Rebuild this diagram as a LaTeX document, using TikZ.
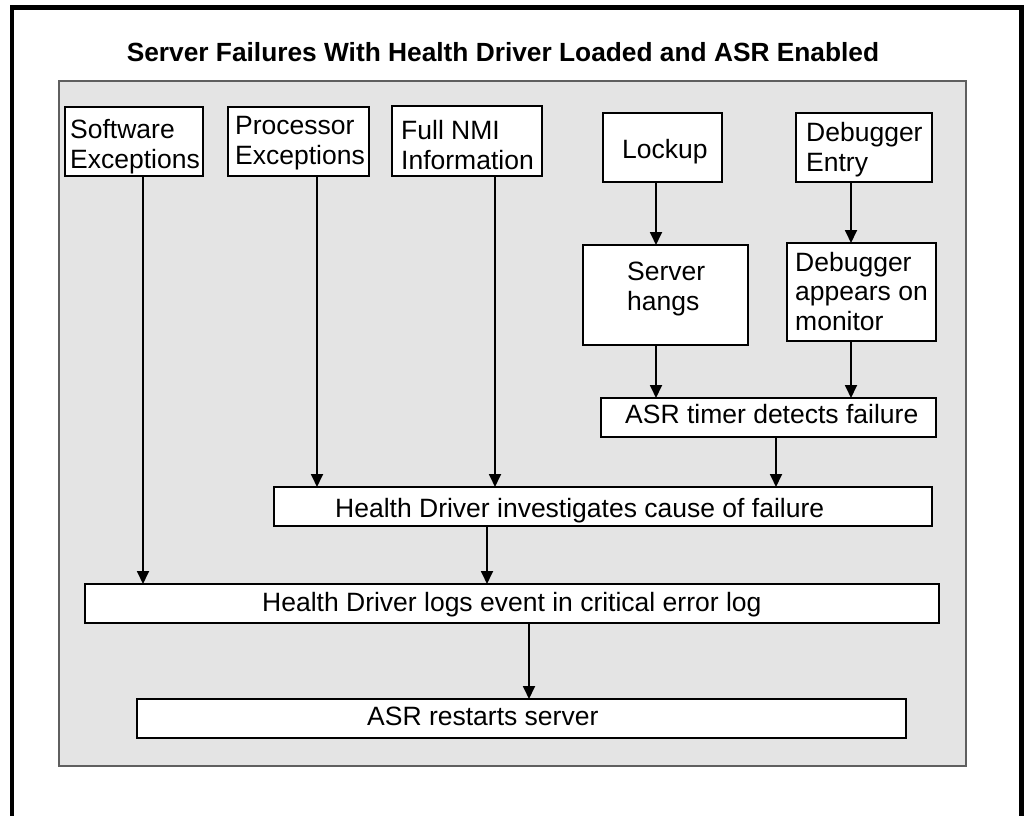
\documentclass[tikz,border=0pt]{standalone}
\usepackage{fontspec}
\setmainfont{Liberation Sans}
\usetikzlibrary{arrows.meta}
\definecolor{panelfill}{RGB}{228,228,228}
\definecolor{panelline}{RGB}{95,95,95}
\begin{document}
\begin{tikzpicture}[x=1pt,y=-1pt,
  box/.style={draw=black, fill=white, line width=1.4pt, inner sep=0pt, outer sep=0pt, anchor=north west},
  lbl/.style={font=\fontsize{26.5}{29.5}\selectfont, inner sep=0pt, anchor=base west, align=left},
  arr/.style={line width=1.8pt, -{Triangle[length=13pt,width=12pt]}},
]
\useasboundingbox (0,0) rectangle (1026,816);
\fill[white] (0,0) rectangle (1026,816);
% outer frame (open at the bottom edge)
\draw[line width=4.5pt] (12,822) -- (12,7.5) -- (1021.5,7.5) -- (1021.5,822);

% title
\node[font=\bfseries\fontsize{26.3}{30}\selectfont, inner sep=0pt, anchor=base] (title) at (503,62)
  {Server Failures With Health Driver Loaded and ASR Enabled};

% grey panel
\draw[fill=panelfill, draw=panelline, line width=1.5pt] (59,81) rectangle (966,766);

% boxes
\node[box, minimum width=138pt, minimum height=69pt] (sw)   at (65,107) {};
\node[box, minimum width=141pt, minimum height=69pt] (pe)   at (228,107) {};
\node[box, minimum width=150pt, minimum height=70pt] (nmi)  at (392,106) {};
\node[box, minimum width=119pt, minimum height=69pt] (lock) at (603,113) {};
\node[box, minimum width=136pt, minimum height=69pt] (dbe)  at (796,113) {};
\node[box, minimum width=165pt, minimum height=100pt] (hang) at (583,245) {};
\node[box, minimum width=149pt, minimum height=98pt] (dba)  at (787,243) {};
\node[box, minimum width=335pt, minimum height=39pt] (asrt) at (601,398) {};
\node[box, minimum width=658pt, minimum height=39pt] (inv)  at (274,487) {};
\node[box, minimum width=854pt, minimum height=39pt] (log)  at (85,584) {};
\node[box, minimum width=769pt, minimum height=39pt] (rst)  at (137,699) {};

% labels (placed at the baseline of their last line)
\node[lbl] (sw-t)   at (70,168)  {Software\\Exceptions};
\node[lbl] (pe-t)   at (235,164) {Processor\\Exceptions};
\node[lbl] (nmi-t)  at (401,169) {Full NMI\\Information};
\node[lbl] (lock-t) at (622,158) {Lockup};
\node[lbl] (dbe-t)  at (806,171) {Debugger\\Entry};
\node[lbl] (hang-t) at (627,310) {Server\\hangs};
\node[lbl] (dba-t)  at (795,330) {Debugger\\appears on\\monitor};
\node[lbl] (asrt-t) at (625,423) {ASR timer detects failure};
\node[lbl] (inv-t)  at (335,517) {Health Driver investigates cause of failure};
\node[lbl] (log-t)  at (262,611) {Health Driver logs event in critical error log};
\node[lbl] (rst-t)  at (367,725) {ASR restarts server};

% arrow start points
\coordinate (a-sw)   at ([xshift=9pt]sw.south);
\coordinate (a-pe)   at ([xshift=18.5pt]pe.south);
\coordinate (a-nmi)  at ([xshift=28pt]nmi.south);
\coordinate (a-lock) at ([xshift=-6.5pt]lock.south);
\coordinate (a-dbe)  at ([xshift=-13pt]dbe.south);
\coordinate (a-hang) at ([xshift=-9.5pt]hang.south);
\coordinate (a-dba)  at ([xshift=-10.5pt]dba.south);
\coordinate (a-asrt) at ([xshift=7.5pt]asrt.south);
\coordinate (a-inv)  at ([xshift=-116pt]inv.south);
\coordinate (a-log)  at ([xshift=17pt]log.south);

% connectors
\draw[arr] (a-lock) -- (a-lock |- hang.north);
\draw[arr] (a-dbe)  -- (a-dbe |- dba.north);
\draw[arr] (a-hang) -- (a-hang |- asrt.north);
\draw[arr] (a-dba)  -- (a-dba |- asrt.north);
\draw[arr] (a-pe)   -- (a-pe |- inv.north);
\draw[arr] (a-nmi)  -- (a-nmi |- inv.north);
\draw[arr] (a-asrt) -- (a-asrt |- inv.north);
\draw[arr] (a-sw)   -- (a-sw |- log.north);
\draw[arr] (a-inv)  -- (a-inv |- log.north);
\draw[arr] (a-log)  -- (a-log |- rst.north);
\end{tikzpicture}
\end{document}
